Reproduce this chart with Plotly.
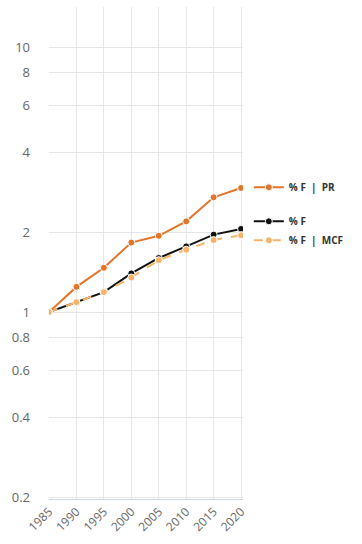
import plotly.graph_objects as go

years = [1985, 1990, 1995, 2000, 2005, 2010, 2015, 2020]
pct_f_pr = [1.0, 1.245, 1.47, 1.83, 1.94, 2.20, 2.71, 2.94]
pct_f = [1.0, 1.09, 1.19, 1.40, 1.60, 1.77, 1.96, 2.06]
pct_f_mcf = [1.0, 1.09, 1.19, 1.35, 1.57, 1.72, 1.87, 1.95]

y_tickvals = [0.2, 0.4, 0.6, 0.8, 1, 2, 4, 6, 8, 10]
y_ticktext = ["0.2", "0.4", "0.6", "0.8", "1", "2", "4", "6", "8", "10"]

c_pr = "#e2752a"
c_f = "#111111"
c_mcf = "#f6b46b"

fig = go.Figure()
fig.add_trace(go.Scatter(
    x=years, y=pct_f_pr, name="% F  |  PR", mode="lines+markers",
    line=dict(color=c_pr, width=2),
    marker=dict(size=7, color=c_pr, line=dict(color="white", width=1)),
    legendgroup="a"))
fig.add_trace(go.Scatter(
    x=years, y=pct_f, name="% F", mode="lines+markers",
    line=dict(color=c_f, width=2),
    marker=dict(size=7, color=c_f, line=dict(color="white", width=1)),
    legendgroup="b"))
fig.add_trace(go.Scatter(
    x=years, y=pct_f_mcf, name="% F  |  MCF", mode="lines+markers",
    line=dict(color=c_mcf, width=2, dash="dash"),
    marker=dict(size=7, color=c_mcf, line=dict(color="white", width=1)),
    legendgroup="b"))

fig.update_layout(
    width=362, height=544,
    margin=dict(l=49, r=119, t=7, b=45),
    plot_bgcolor="white", paper_bgcolor="white",
    font=dict(family="Open Sans", color="#666666", size=13),
    showlegend=True,
    legend=dict(
        x=1.03, xanchor="left", y=0.663, yanchor="top",
        font=dict(family="Open Sans", size=10, color="#333333", weight="bold"),
        tracegroupgap=15, traceorder="grouped",
        bgcolor="rgba(0,0,0,0)",
    ),
    xaxis=dict(
        range=[1985, 2020.35], tickvals=years, ticktext=[str(y) for y in years],
        tickangle=-45, showgrid=True, gridcolor="#e6e6e6", gridwidth=1,
        showline=True, linecolor="#ccd6eb", linewidth=1,
        ticks="", zeroline=False, tickfont=dict(size=12, color="#666666"),
        automargin=False,
    ),
    yaxis=dict(
        type="log", range=[-0.705, 1.151],
        tickvals=y_tickvals, ticktext=y_ticktext,
        showgrid=True, gridcolor="#e6e6e6", gridwidth=1,
        showline=False, zeroline=False, ticks="",
        ticklabelstandoff=18,
        tickfont=dict(size=13, color="#666666"),
        automargin=False,
    ),
)

fig.write_html(
    "out.html",
    config={"displayModeBar": False},
    post_script="document.body.style.margin='0px';document.body.style.overflow='hidden';",
)
